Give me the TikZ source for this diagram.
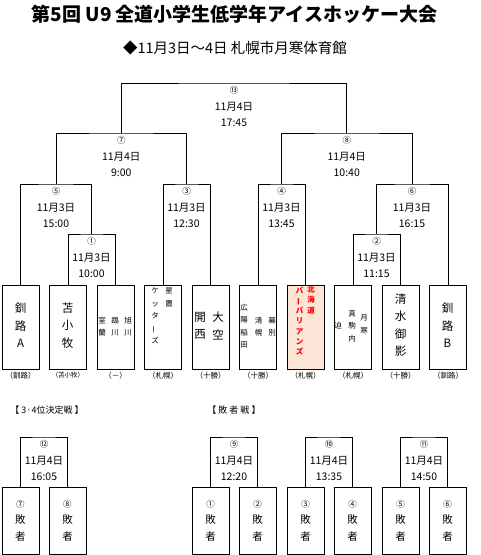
\documentclass[tikz,border=0pt]{standalone}
\usepackage{fontspec}
\setmainfont{Noto Sans CJK JP}
\usepackage{tikz}
\usetikzlibrary{positioning, calc}

\newcommand\cnum[1]{{\fontsize{8.5}{10}\selectfont #1}}
\newcommand\vbar{\rotatebox[origin=c]{90}{ー}}

\begin{document}
\begin{tikzpicture}[x=1pt, y=-1pt, line width=0.9pt,
  every node/.style={inner sep=0pt},
  teambox/.style={draw, minimum width=37pt, minimum height=84pt, anchor=north},
  loserbox/.style={draw, minimum width=37pt, minimum height=66.5pt, anchor=north,
    align=center, font=\fontsize{10.5}{16.5}\selectfont},
  matchlbl/.style={anchor=north, align=center, inner ysep=3pt,
    font=\fontsize{10.5}{16.5}\selectfont},
  bigchr/.style={align=center, font=\fontsize{11.5}{17.5}\selectfont},
  smallchr/.style={align=center, font=\fontsize{7.5}{12.5}\selectfont},
  barb/.style={align=center, text=barbred, font=\bfseries\fontsize{7.5}{10.3}\selectfont},
  region/.style={font=\fontsize{7.5}{9}\selectfont},
  hdr/.style={anchor=west, font=\fontsize{9}{11}\selectfont}]
  % Define colors
  \definecolor{barbpink}{RGB}{252,228,214}  % Barbarians box
  \definecolor{barbred}{RGB}{255,0,0}       % Barbarians name

  \useasboundingbox (0,0) rectangle (480,555);

  % Title
  \node[font=\bfseries\fontsize{19}{21}\selectfont] (title) at (234.5,14) {第5回 U9 全道小学生低学年アイスホッケー大会};
  \node[font=\fontsize{14.5}{16}\selectfont] (venue) at (235,48) {◆11月3日～4日 札幌市月寒体育館};

  % Team boxes
  \foreach \i/\f in {1/white,2/white,3/white,4/white,5/white,6/white,7/barbpink,8/white,9/white,10/white}
    \node[teambox, fill=\f] (t\i) at ({20.5+47.5*(\i-1)},285) {};

  % Team names (vertical)
  \node[bigchr] (n1) at (20.5,325.5) {釧\\路\\A};
  \node[bigchr] (n2) at (67.5,325.5) {苫\\小\\牧};
  \node[smallchr] (n3a) at (102,326.5) {室\\蘭};
  \node[smallchr] (n3b) at (115,326.5) {鵡\\川};
  \node[smallchr] (n3c) at (128,326.5) {旭\\川};
  \node[smallchr] (n4a) at (155,316) {ケ\\ッ\\タ\\\vbar\\ズ};
  \node[smallchr] (n4b) at (169,297.25) {星\\置};
  \node[bigchr] (n5a) at (200,326) {開\\西};
  \node[bigchr] (n5b) at (218,326) {大\\空};
  \node[smallchr] (n6a) at (244,326) {広\\陽\\稲\\田};
  \node[smallchr] (n6b) at (258.5,326.5) {清\\幌};
  \node[smallchr] (n6c) at (272,326.5) {幕\\別};
  \node[barb] (n7a) at (299.5,321) {バ\\\vbar\\バ\\リ\\ア\\ン\\ズ};
  \node[barb] (n7b) at (311,300) {北\\海\\道};
  \node[smallchr] (n8a) at (338,326) {迫};
  \node[smallchr] (n8b) at (352,326) {真\\駒\\内};
  \node[smallchr] (n8c) at (364,324.5) {月\\寒};
  \node[bigchr] (n9) at (400.5,325.25) {清\\水\\御\\影};
  \node[bigchr] (n10) at (447.5,325.5) {釧\\路\\B};

  % Regions
  \foreach \i/\r in {1/（釧路）,2/{\fontsize{6.5}{8}\selectfont（苫小牧）},3/（－）,4/（札幌）,5/（十勝）,
                     6/（十勝）,7/（札幌）,8/（札幌）,9/（十勝）,10/（釧路）}
    \node[region] (r\i) at ({20.5+47.5*(\i-1)},375.5) {\r};

  % Match labels
  \foreach \m/\x/\y/\c/\d/\t in {1/91.5/234/①/11月3日/10:00, 2/376.5/234/②/11月3日/11:15,
      3/186.5/184/③/11月3日/12:30, 4/281.5/184/④/11月3日/13:45,
      5/56/184/⑤/11月3日/15:00, 6/412/184/⑥/11月3日/16:15,
      7/121.25/133/⑦/11月4日/9:00, 8/346.75/133/⑧/11月4日/10:40,
      13/234/83/⑬/11月4日/17:45, 12/44/437/⑫/11月4日/16:05,
      9/234/437/⑨/11月4日/12:20, 10/329/437/⑩/11月4日/13:35,
      11/424/437/⑪/11月4日/14:50}
    \node[matchlbl] (m\m) at (\x,\y) {\cnum{\c}\\\d\\\t};

  % Brackets
  \draw (t2.north) |- (m1.north) -| (t3.north);
  \draw (t8.north) |- (m2.north) -| (t9.north);
  \draw (t4.north) |- (m3.north) -| (t5.north);
  \draw (t6.north) |- (m4.north) -| (t7.north);
  \draw (t1.north) |- (m5.north) -| (m1.north);
  \draw (m2.north) |- (m6.north) -| (t10.north);
  \draw (m5.north) |- (m7.north) -| (m3.north);
  \draw (m4.north) |- (m8.north) -| (m6.north);
  \draw (m7.north) |- (m13.north) -| (m8.north);

  % Headings
  \node[hdr] (h34) at (10,410) {【 3·4位決定戦 】};
  \node[hdr] (hlose) at (207,410) {【 敗 者 戦 】};

  % Loser boxes
  \foreach \b/\x/\c in {1/20.5/⑦,2/67.5/⑧,3/210.5/①,4/257.5/②,5/305.5/③,6/352.5/④,7/400.5/⑤,8/447.5/⑥}
    \node[loserbox] (b\b) at (\x,487) {\cnum{\c}\\敗\\者};

  \draw (b1.north) |- (m12.north) -| (b2.north);
  \draw (b3.north) |- (m9.north) -| (b4.north);
  \draw (b5.north) |- (m10.north) -| (b6.north);
  \draw (b7.north) |- (m11.north) -| (b8.north);
\end{tikzpicture}
\end{document}
